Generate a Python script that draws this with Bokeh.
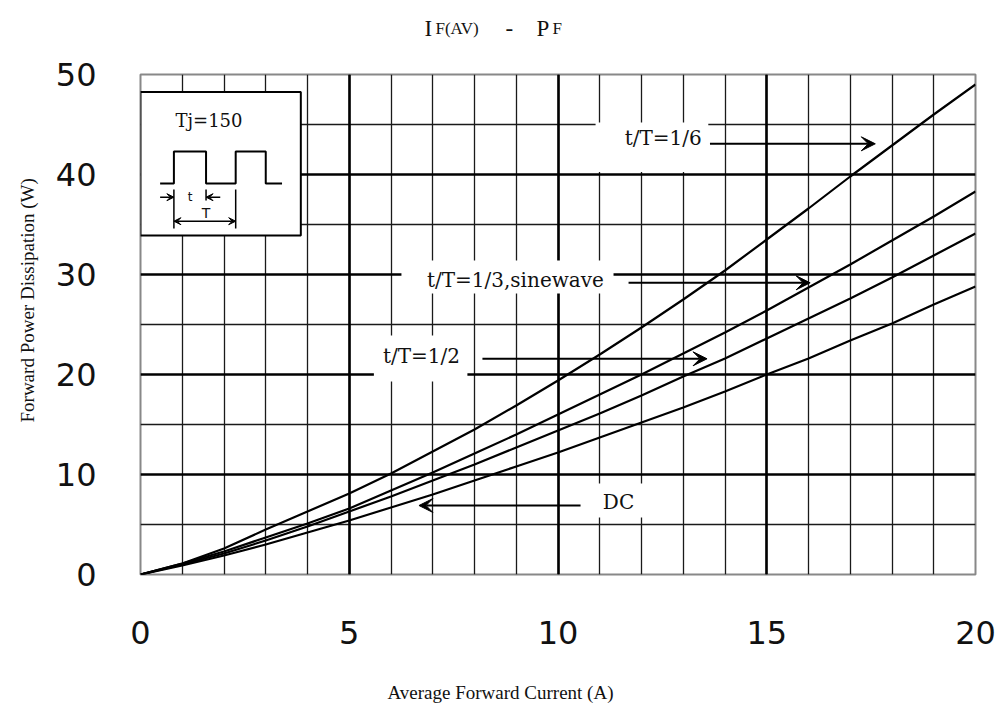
from bokeh.plotting import figure
from bokeh.layouts import column
from bokeh.models import Range1d, FixedTicker, Grid, Label, Arrow, VeeHead, Title
from bokeh.embed import file_html
from bokeh.resources import INLINE

# ---- data ----
current_a = [0, 1, 2, 3, 4, 5, 6, 7, 8, 9, 10, 11, 12, 13, 14, 15, 16, 17, 18, 19, 20]
p_duty_1_6 = [0, 1.1, 2.6, 4.5, 6.3, 8.1, 10.1, 12.3, 14.5, 16.9, 19.4, 22.0, 24.7, 27.5,
              30.4, 33.5, 36.6, 39.8, 42.9, 46.0, 49.0]
p_duty_1_3 = [0, 1.1, 2.3, 3.7, 5.1, 6.6, 8.4, 10.2, 12.1, 14.0, 16.0, 18.0, 20.0, 22.1,
              24.2, 26.4, 28.7, 31.0, 33.4, 35.8, 38.3]
p_duty_1_2 = [0, 1.0, 2.1, 3.4, 4.8, 6.3, 7.8, 9.4, 11.0, 12.7, 14.4, 16.1, 17.9, 19.8,
              21.6, 23.6, 25.6, 27.6, 29.7, 31.9, 34.1]
p_dc = [0, 0.9, 1.9, 3.0, 4.2, 5.4, 6.7, 8.0, 9.4, 10.8, 12.2, 13.7, 15.2, 16.7, 18.3,
        20.0, 21.6, 23.4, 25.1, 27.0, 28.8]

x_ticks = [0, 5, 10, 15, 20]
y_ticks = [0, 10, 20, 30, 40, 50]

labels = ["t/T=1/6", "t/T=1/3,sinewave", "t/T=1/2", "DC"]
inset_title = "Tj=150"
x_title = "Average Forward Current (A)"
y_title = "Forward Power Dissipation (W)"

# ---- inset pulse-train schematic ----
wave_x = [0.47, 0.80, 0.80, 1.57, 1.57, 2.28, 2.28, 3.0, 3.0, 3.39]
wave_y = [39.1, 39.1, 42.3, 42.3, 39.1, 39.1, 42.3, 42.3, 39.1, 39.1]

TOP_H = 40
BOT_H = 50
FRAME_L, FRAME_R = 140, 975   # frame edges in page pixels (strips share them)


def strip(h):
    s = figure(width=1001, height=h, output_backend="svg", toolbar_location=None,
               x_range=Range1d(FRAME_L, FRAME_R), y_range=Range1d(h, 0),
               x_axis_type=None, y_axis_type=None,
               min_border_left=FRAME_L, min_border_right=1001 - FRAME_R,
               min_border_top=0, min_border_bottom=0)
    s.outline_line_color = None
    s.background_fill_color = "white"
    s.border_fill_color = "white"
    s.grid.visible = False
    return s


# ---- title strip ----
t = strip(TOP_H)
ttl = dict(text_font="Liberation Serif", text_color="#111111", text_align="left",
           text_baseline="alphabetic")
t.add_layout(Label(x=424, y=28, text="I", text_font_size="23px", **ttl))
t.add_layout(Label(x=435, y=28, text="F(AV)", text_font_size="17px", **ttl))
t.add_layout(Label(x=505, y=28, text="-", text_font_size="23px", **ttl))
t.add_layout(Label(x=536, y=28, text="P", text_font_size="23px", **ttl))
t.add_layout(Label(x=552, y=28, text="F", text_font_size="17px", **ttl))

# ---- x-axis title strip ----
b = strip(BOT_H)
b.add_layout(Label(x=500, y=24, text=x_title, text_font="Liberation Serif",
                   text_font_size="19px", text_color="#111111", text_align="center",
                   text_baseline="middle"))

# ---- main chart ----
p = figure(width=1001, height=718 - TOP_H - BOT_H, output_backend="svg",
           toolbar_location=None, x_range=Range1d(0, 20), y_range=Range1d(0, 50),
           min_border_left=FRAME_L, min_border_right=1001 - FRAME_R,
           min_border_top=74 - TOP_H, min_border_bottom=718 - BOT_H - 574)
p.background_fill_color = "white"
p.border_fill_color = "white"
p.outline_line_color = "#888888"
p.outline_line_width = 2

p.xgrid.visible = False
p.ygrid.visible = False

thin = dict(grid_line_color="#1a1a1a", grid_line_width=1.3)
thick = dict(grid_line_color="black", grid_line_width=2.6)
p.add_layout(Grid(dimension=0, ticker=FixedTicker(ticks=list(range(1, 20))), **thin))
p.add_layout(Grid(dimension=1, ticker=FixedTicker(ticks=[5, 15, 25, 35, 45]), **thin))
p.add_layout(Grid(dimension=0, ticker=FixedTicker(ticks=[0, 5, 10, 15]), **thick))
p.add_layout(Grid(dimension=1, ticker=FixedTicker(ticks=[0, 10, 20, 30, 40]), **thick))

# axes
p.xaxis.ticker = FixedTicker(ticks=x_ticks)
p.yaxis.ticker = FixedTicker(ticks=y_ticks)
for ax in (p.xaxis, p.yaxis):
    ax.axis_line_color = None
    ax.major_tick_line_color = None
    ax.minor_tick_line_color = None
    ax.major_label_text_font = "DejaVu Sans"
    ax.major_label_text_font_size = "32px"
    ax.major_label_text_color = "#111111"
p.xaxis.major_label_standoff = 40
p.yaxis.major_label_standoff = 38

p.add_layout(Title(text=y_title, offset=152, standoff=29, text_font="Liberation Serif",
                   text_font_size="19px", text_font_style="normal", text_color="#111111",
                   align="left"), "left")

# white masks behind annotation texts
mask = dict(fill_color="white", line_color=None)
p.quad(left=[10.9], right=[13.6], bottom=[40.25], top=[45.2], **mask)
p.quad(left=[6.25], right=[11.33], bottom=[28.1], top=[31.4], **mask)
p.quad(left=[5.59], right=[7.83], bottom=[19.3], top=[23.9], **mask)
p.quad(left=[10.93], right=[12.05], bottom=[5.7], top=[9.1], **mask)

# curves
for series in (p_duty_1_6, p_duty_1_3, p_duty_1_2, p_dc):
    p.line(current_a, series, line_color="black", line_width=2.2)

# annotation labels and arrows
serif_lbl = dict(text_font="DejaVu Serif", text_font_size="20px", text_color="#111111",
                 text_align="center", text_baseline="middle")
p.add_layout(Label(x=12.52, y=43.7, text=labels[0], **serif_lbl))
p.add_layout(Label(x=8.98, y=29.5, text=labels[1], **serif_lbl))
p.add_layout(Label(x=6.73, y=21.9, text=labels[2], **serif_lbl))
p.add_layout(Label(x=11.45, y=7.25, text=labels[3], **serif_lbl))


def head(sz):
    return VeeHead(size=sz, fill_color="black", line_color="black", line_width=1)


arr = dict(line_color="black", line_width=2)
p.add_layout(Arrow(x_start=13.64, y_start=43.07, x_end=17.6, y_end=43.07, end=head(14), **arr))
p.add_layout(Arrow(x_start=11.69, y_start=29.17, x_end=16.04, y_end=29.17, end=head(14), **arr))
p.add_layout(Arrow(x_start=8.19, y_start=21.57, x_end=13.57, y_end=21.57, end=head(14), **arr))
p.add_layout(Arrow(x_start=10.54, y_start=6.9, x_end=6.67, y_end=6.9, end=head(14), **arr))

# inset box
p.quad(left=[0.0], right=[3.84], bottom=[33.9], top=[48.25], fill_color="white",
       line_color="black", line_width=2)
p.line(wave_x, wave_y, line_color="black", line_width=2)
p.segment(x0=[0.80, 1.57, 2.28], y0=[38.5, 38.5, 38.5], x1=[0.80, 1.57, 2.28],
          y1=[34.6, 37.4, 34.6], line_color="black", line_width=1.5)
small = dict(line_color="black", line_width=1.5)
p.add_layout(Arrow(x_start=0.47, y_start=37.73, x_end=0.80, y_end=37.73, end=head(7), **small))
p.add_layout(Arrow(x_start=1.91, y_start=37.73, x_end=1.57, y_end=37.73, end=head(7), **small))
p.add_layout(Arrow(x_start=0.80, y_start=35.33, x_end=2.28, y_end=35.33, start=head(7),
                   end=head(7), **small))
p.add_layout(Label(x=1.64, y=45.4, text=inset_title, text_font="DejaVu Serif",
                   text_font_size="18px", text_color="#111111", text_align="center",
                   text_baseline="middle"))
p.add_layout(Label(x=1.19, y=37.8, text="t", text_font="DejaVu Sans",
                   text_font_size="12px", text_color="#111111", text_align="center",
                   text_baseline="middle"))
p.add_layout(Label(x=1.57, y=36.2, text="T", text_font="DejaVu Sans",
                   text_font_size="14px", text_color="#111111", text_align="center",
                   text_baseline="middle"))

layout = column(t, p, b, spacing=0)
open("out.html", "w").write(file_html(layout, INLINE))
